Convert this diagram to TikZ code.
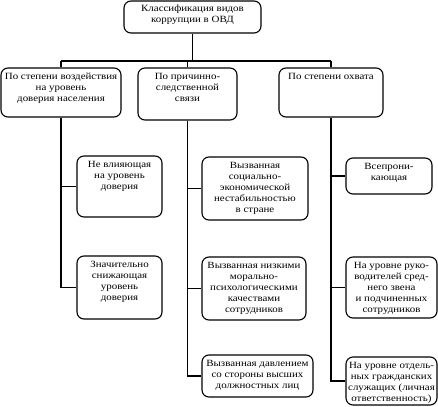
\documentclass[tikz,border=0pt]{standalone}
\usepackage{fontspec}
\setmainfont{Liberation Serif}[FakeStretch=1.15]
\begin{document}
\begin{tikzpicture}[x=1pt,y=-1pt,
  box/.style={draw, line width=1.1pt, rounded corners=7pt, inner sep=0pt},
  lbl/.style={anchor=north, inner sep=0pt, align=center, yshift=-5.5pt, font=\fontsize{9.5}{11}\selectfont},
  conn/.style={line width=1.8pt}]
\useasboundingbox (0,0) rectangle (438,406);
\fill[white] (0,0) rectangle (438,406);
% boxes
\node[box, minimum width=137pt, minimum height=32pt] (T) at (192.5,17) {};
\node[box, minimum width=120pt, minimum height=49pt] (A) at (61,92.5) {};
\node[box, minimum width=99pt, minimum height=52pt] (B) at (187.5,94) {};
\node[box, minimum width=104pt, minimum height=49pt] (C) at (331,92.5) {};
\node[box, minimum width=85pt, minimum height=61pt] (A1) at (119.5,186.5) {};
\node[box, minimum width=85pt, minimum height=63pt] (A2) at (119.5,287.5) {};
\node[box, minimum width=106pt, minimum height=63pt] (B1) at (255,188.5) {};
\node[box, minimum width=104pt, minimum height=63pt] (B2) at (254,288.5) {};
\node[box, minimum width=111pt, minimum height=42pt] (B3) at (257.5,376) {};
\node[box, minimum width=86pt, minimum height=36pt] (C1) at (389,176) {};
\node[box, minimum width=91pt, minimum height=61pt] (C2) at (391.5,287.5) {};
\node[box, minimum width=91pt, minimum height=48pt] (C3) at (391.5,381) {};
% labels
\node[lbl, yshift=1pt] (Tt) at (T.north) {Классификация видов\\коррупции в ОВД};
\node[lbl] (At) at (A.north) {По степени воздействия\\на уровень\\доверия населения};
\node[lbl] (Bt) at (B.north) {По причинно-\\следственной\\связи};
\node[lbl] (Ct) at (C.north) {По степени охвата};
\node[lbl] (A1t) at (A1.north) {Не влияющая\\на уровень\\доверия};
\node[lbl] (A2t) at (A2.north) {Значительно\\снижающая\\уровень\\доверия};
\node[lbl] (B1t) at (B1.north) {Вызванная\\социально-\\экономической\\нестабильностью\\в стране};
\node[lbl] (B2t) at (B2.north) {Вызванная низкими\\морально-\\психологическими\\качествами\\сотрудников};
\node[lbl] (B3t) at (B3.north) {Вызванная давлением\\со стороны высших\\должностных лиц};
\node[lbl] (C1t) at (C1.north) {Всепрони-\\кающая};
\node[lbl] (C2t) at (C2.north) {На уровне руко-\\водителей сред-\\него звена\\и подчиненных\\сотрудников};
\node[lbl] (C3t) at (C3.north) {На уровне отдель-\\ных гражданских\\служащих (личная\\ответственность)};
% connectors
\coordinate (bus) at (0,61);
\draw[conn] (T.south) -- (T.south |- bus);
\draw[conn] (A.north |- bus) -- (C.north |- bus);
\draw[conn] (A.north |- bus) -- (A.north);
\draw[conn] (B.north |- bus) -- (B.north);
\draw[conn] (C.north |- bus) -- (C.north);
\draw[conn] (A.south) -- (A.south |- A2.west) -- (A2.west);
\draw[conn] (A.south |- A1.west) -- (A1.west);
\draw[conn] (B.south) -- (B.south |- B3.west) -- (B3.west);
\draw[conn] (B.south |- B1.west) -- (B1.west);
\draw[conn] (B.south |- B2.west) -- (B2.west);
\draw[conn] (C.south) -- (C.south |- C3.west) -- (C3.west);
\draw[conn] (C.south |- C1.west) -- (C1.west);
\draw[conn] (C.south |- C2.west) -- (C2.west);
\end{tikzpicture}
\end{document}
